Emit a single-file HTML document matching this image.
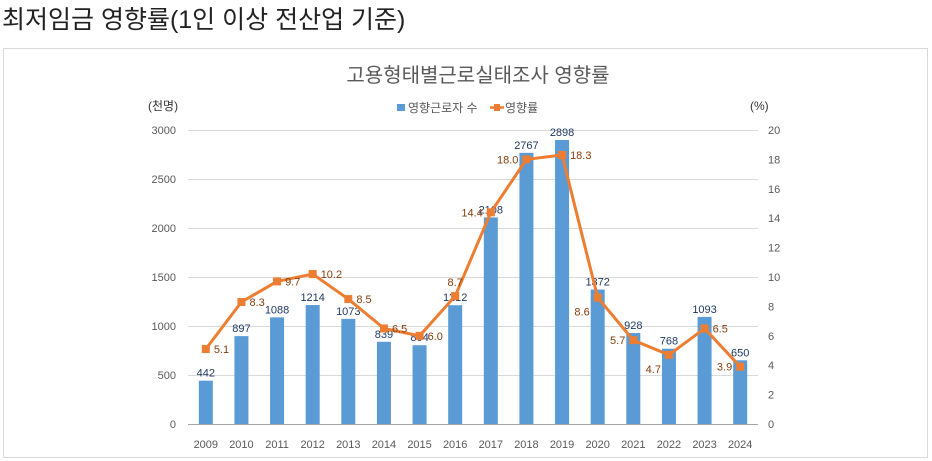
<!DOCTYPE html>
<html><head><meta charset="utf-8"><style>
body{margin:0;background:#fff;width:932px;height:461px;overflow:hidden;font-family:"Liberation Sans","Noto Sans CJK KR",sans-serif}
#t{position:absolute;left:2px;top:0px;font-size:25px;color:#222}
svg{position:absolute;left:0;top:0}
</style></head><body>
<div id="t">최저임금 영향률(1인 이상 전산업 기준)</div>
<svg id="c" width="932" height="461" font-family="Liberation Sans, Noto Sans CJK KR, sans-serif"></svg>
<script>
const years=["2009","2010","2011","2012","2013","2014","2015","2016","2017","2018","2019","2020","2021","2022","2023","2024"];
const workers=[442,897,1088,1214,1073,839,804,1212,2108,2767,2898,1372,928,768,1093,650];
const rates=[5.1,8.3,9.7,10.2,8.5,6.5,6.0,8.7,14.4,18.0,18.3,8.6,5.7,4.7,6.5,3.9];
const leftTicks=[0,500,1000,1500,2000,2500,3000];
const rightTicks=[0,2,4,6,8,10,12,14,16,18,20];
const rateLabelSide=["r","r","r","r","r","r","r","t","l","l","r","lb","l","lb","r","l"];
const NS="http://www.w3.org/2000/svg",svg=document.getElementById('c');
function el(tag,a,txt){const e=document.createElementNS(NS,tag);for(const k in a)e.setAttribute(k,a[k]);if(txt!=null)e.textContent=txt;svg.appendChild(e);return e;}
const L=188,R=758,T=130,B=424;
const x=i=>L+(i+0.5)*(R-L)/years.length;
const yL=v=>B-v/3000*(B-T);
const yR=v=>B-v/20*(B-T);
let e=el('rect',{x:3.5,y:48.5,width:924,height:409,fill:'#fff',stroke:'#d9d9d9'});


e=el('text',{x:478,y:82,'text-anchor':'middle','font-size':20,fill:'#595959'},'고용형태별근로실태조사 영향률');


e=el('text',{x:148,y:110,'font-size':12,fill:'#333'},'(천명)');


e=el('text',{x:750,y:110,'font-size':12,fill:'#333'},'(%)');


e=el('rect',{x:397,y:104,width:8,height:7,fill:'#5b9bd5'});


e=el('text',{x:408,y:112,'font-size':12,fill:'#595959'},'영향근로자 수');


e=el('line',{x1:490,y1:107.5,x2:504,y2:107.5,stroke:'#ed7d31','stroke-width':2.5});


e=el('rect',{x:494,y:104,width:6,height:7,fill:'#ed7d31'});


e=el('text',{x:505,y:112,'font-size':12,fill:'#595959'},'영향률');


leftTicks.forEach(v=>{
 const g=el('line',{x1:L,x2:R,y1:yL(v)+.5,y2:yL(v)+.5,stroke:v?'#d9d9d9':'#a6a6a6'});
 
 
 const t=el('text',{x:176,y:yL(v)+4,'text-anchor':'end','font-size':11,fill:'#595959'},v);
 
 
});
rightTicks.forEach(v=>{
 const t=el('text',{x:768,y:yR(v)+4,'font-size':11,fill:'#595959'},v);
 
 
});
years.forEach((yr,i)=>{
 const t=el('text',{x:x(i),y:448,'text-anchor':'middle','font-size':11,fill:'#595959'},yr);
 
 
});
workers.forEach((v,i)=>{
 const b=el('rect',{x:x(i)-7,y:yL(v),width:14,height:B-yL(v),fill:'#5b9bd5'});
 
 
 const t=el('text',{x:x(i),y:yL(v)-4,'text-anchor':'middle','font-size':11,fill:'#1f3864'},v);
 
 
});
const ln=el('polyline',{points:rates.map((v,i)=>x(i)+','+yR(v)).join(' '),fill:'none',stroke:'#ed7d31','stroke-width':3});


rates.forEach((v,i)=>{
 const m=el('rect',{x:x(i)-4,y:yR(v)-4,width:8,height:8,fill:'#ed7d31'});
 
 
 const s=rateLabelSide[i];let tx=x(i)+8,ty=yR(v)+4,an='start';
 if(s==='l'){tx=x(i)-8;an='end';}
 if(s==='lb'){tx=x(i)-8;an='end';ty=yR(v)+18;}
 if(s==='t'){tx=x(i);an='middle';ty=yR(v)-10;}
 const t=el('text',{x:tx,y:ty,'text-anchor':an,'font-size':11,fill:'#843c0c'},v.toFixed(1));
 
 
});
</script>
</body></html>
